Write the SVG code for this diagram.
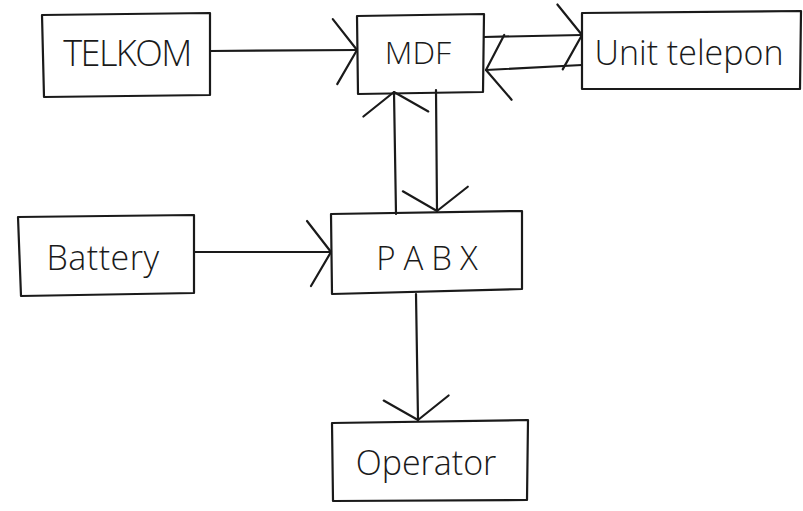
<svg xmlns="http://www.w3.org/2000/svg" width="803" height="511" viewBox="0 0 803 511">
<defs>
<style>
.box{fill:none;stroke:#1a1a1a;stroke-width:2.2;stroke-linejoin:round;stroke-linecap:round}
.con{fill:none;stroke:#1a1a1a;stroke-width:2.2;stroke-linecap:round}
.lbl{font-family:"Open Sans","Liberation Sans","DejaVu Sans",sans-serif;font-weight:300;fill:#1a1a1a;text-anchor:middle}
</style>
<marker id="ah" markerUnits="userSpaceOnUse" markerWidth="60" markerHeight="80" refX="0" refY="0" viewBox="-30 -40 40 80" orient="auto" overflow="visible">
<path d="M-24,-31 L0,0 L-20,34" fill="none" stroke="#1a1a1a" stroke-width="2.2" stroke-linecap="round" stroke-linejoin="round"/>
</marker>
</defs>
<rect width="803" height="511" fill="#ffffff"/>
<g id="connectors">
<path class="con" d="M210,51 L357,50" marker-end="url(#ah)"/>
<path class="con" d="M484,37 L582,35" marker-end="url(#ah)"/>
<path class="con" d="M582,65 L486,70" marker-end="url(#ah)"/>
<path class="con" d="M396,214 L394,92" marker-end="url(#ah)"/>
<path class="con" d="M436,90 L437,211" marker-end="url(#ah)"/>
<path class="con" d="M194,252 L331,252" marker-end="url(#ah)"/>
<path class="con" d="M416,294 L418,420" marker-end="url(#ah)"/>
</g>
<g id="telkom">
<path class="box" d="M42,15 L210,13 L210,95 L44,97 Z"/>
<text class="lbl" x="127" y="66" font-size="36" letter-spacing="-1.5">TELKOM</text>
</g>
<g id="mdf">
<path class="box" d="M357,16 L484,14 L483,92 L358,94 Z"/>
<text class="lbl" x="418" y="64" font-size="32">MDF</text>
</g>
<g id="unit-telepon">
<path class="box" d="M582,13 L801,11 L800,89 L582,89 Z"/>
<text class="lbl" x="689" y="65" font-size="34">Unit telepon</text>
</g>
<g id="battery">
<path class="box" d="M18,217 L194,215 L194,293 L21,296 Z"/>
<text class="lbl" x="103" y="270" font-size="34" letter-spacing="0.5">Battery</text>
</g>
<g id="pabx">
<path class="box" d="M331,214 L522,211 L522,289 L332,294 Z"/>
<text class="lbl" x="431" y="270" font-size="33" letter-spacing="8">PABX</text>
</g>
<g id="operator">
<path class="box" d="M332,423 L528,420 L527,500 L333,501 Z"/>
<text class="lbl" x="426" y="475" font-size="34">Operator</text>
</g>
</svg>
